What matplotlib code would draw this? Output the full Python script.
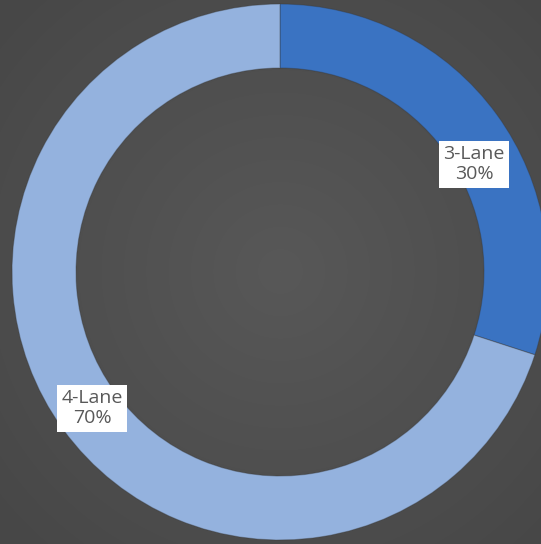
import numpy as np
import matplotlib
matplotlib.use("Agg")
import matplotlib.pyplot as plt

# ======================================
# Data
# ======================================

labels = ["3-Lane", "4-Lane"]
shares = [30, 70]
colors = ["#3a73c2", "#94b2de"]

W, H = 541, 544
cx, cy = 280, 272
r_out = 268
ring = 64

# ======================================
# Figure
# ======================================

fig = plt.figure(figsize=(W / 100, H / 100), dpi=100)
ax = fig.add_axes([0, 0, 1, 1])

# radial gradient background
yy, xx = np.mgrid[0:H, 0:W]
d = np.sqrt((xx - cx) ** 2 + (yy - cy) ** 2) / 380.0
d = np.clip(d, 0, 1)
g = 0x58 / 255 * (1 - d) + 0x47 / 255 * d
bg = np.dstack([g, g, g])
ax.imshow(bg, extent=[0, W, 0, H], origin="lower", zorder=0)

wedges, _ = ax.pie(shares, colors=colors, startangle=90, counterclock=False,
                   center=(cx, cy), radius=r_out, frame=True,
                   wedgeprops=dict(width=ring, edgecolor=(0.2, 0.2, 0.2, 0.35),
                                   linewidth=0.8))
for w in wedges:
    w.set_zorder(2)
ax.set_xlim(0, W)
ax.set_ylim(0, H)
ax.set_aspect("auto")
ax.axis("off")

# data labels at mid angle
label_r = [222, 232]
label_da = [-7, 0]
start = 90
for i, (lab, s) in enumerate(zip(labels, shares)):
    mid = start - s * 360 / 100 / 2
    start -= s * 360 / 100
    a = np.deg2rad(mid + label_da[i])
    tx = cx + label_r[i] * np.cos(a)
    ty = cy + label_r[i] * np.sin(a)
    ax.text(tx, ty, f"{lab}\n{s}%", ha="center", va="center",
            fontsize=14, color="#595959", family="Open Sans", linespacing=1.15,
            bbox=dict(boxstyle="square,pad=0.22", fc="white", ec="none"),
            zorder=5)

fig.savefig("out.png", dpi=100)
